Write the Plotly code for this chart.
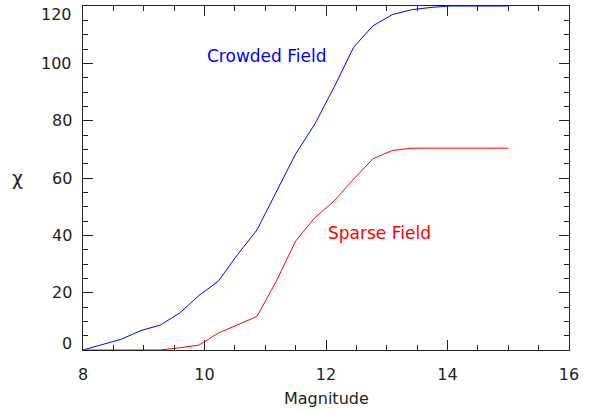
import plotly.graph_objects as go

magnitude = [8.0, 8.318, 8.636, 8.955, 9.273, 9.591, 9.909, 10.227, 10.545, 10.864,
             11.182, 11.5, 11.818, 12.136, 12.455, 12.773, 13.091, 13.409, 13.727,
             14.045, 14.364, 14.682, 15.0]
crowded = [0.0, 1.9, 3.8, 6.8, 8.7, 12.9, 19.0, 24.0, 33.3, 41.9,
           55.0, 68.4, 78.9, 91.8, 105.6, 113.1, 117.0, 118.7, 119.5,
           120.0, 120.0, 120.0, 120.0]
sparse = [0.0, 0.0, 0.0, 0.0, 0.0, 0.8, 1.7, 5.9, 8.8, 11.7,
          24.0, 38.0, 46.2, 52.0, 59.6, 66.7, 69.6, 70.4, 70.4,
          70.4, 70.4, 70.4, 70.4]
x_ticks = [8, 10, 12, 14, 16]
y_ticks = [0, 20, 40, 60, 80, 100, 120]

FONT = "DejaVu Sans"
AX = "#222222"
TXT = "#222222"

fig = go.Figure()
fig.add_trace(go.Scatter(x=magnitude, y=crowded, mode="lines",
                         line=dict(color="#0000ff", width=1), showlegend=False))
fig.add_trace(go.Scatter(x=magnitude, y=sparse, mode="lines",
                         line=dict(color="#ff0000", width=1), showlegend=False))

fig.add_annotation(x=10.0, y=102.5, text="Crowded Field", showarrow=False,
                   xanchor="left", yanchor="middle",
                   font=dict(family=FONT, size=17, color="#0000ff"))
fig.add_annotation(x=12.0, y=40.7, text="Sparse Field", showarrow=False,
                   xanchor="left", yanchor="middle",
                   font=dict(family=FONT, size=17, color="#ff0000"))
fig.add_annotation(x=0, y=60, xref="x domain", yref="y", xshift=-66, text="χ",
                   showarrow=False, xanchor="center", yanchor="middle",
                   font=dict(family=FONT, size=19, color=TXT))
fig.add_annotation(x=0.5, y=0, xref="x domain", yref="y domain", yshift=-48,
                   text="Magnitude", showarrow=False, xanchor="center", yanchor="middle",
                   font=dict(family=FONT, size=16, color=TXT))

# y tick labels (end labels nudged inward as in the original)
for v in y_ticks:
    shift = -8 if v == y_ticks[-1] else (7 if v == y_ticks[0] else 0)
    fig.add_annotation(x=0, y=v, xref="x domain", yref="y", xshift=-9, yshift=shift,
                       text=str(v), showarrow=False, xanchor="right", yanchor="middle",
                       font=dict(family=FONT, size=16, color=TXT))

fig.update_xaxes(range=[8, 16], tickvals=x_ticks, ticktext=[str(v) for v in x_ticks],
                 ticks="inside", ticklen=10, tickcolor=AX, tickwidth=1,
                 minor=dict(ticks="inside", ticklen=5, dtick=0.5, tickcolor=AX, showgrid=False),
                 showline=True, linecolor=AX, linewidth=1, mirror="allticks",
                 showgrid=False, zeroline=False, automargin=False,
                 ticklabelstandoff=10, ticklabeloverflow="allow",
                 tickfont=dict(family=FONT, size=16, color=TXT))
fig.update_yaxes(range=[0, 120], tickvals=y_ticks, showticklabels=False,
                 ticks="inside", ticklen=10, tickcolor=AX, tickwidth=1,
                 minor=dict(ticks="inside", ticklen=5, dtick=5, tickcolor=AX, showgrid=False),
                 showline=True, linecolor=AX, linewidth=1, mirror="allticks",
                 showgrid=False, zeroline=False, automargin=False)

fig.update_layout(width=590, height=410, autosize=False,
                  margin=dict(l=83, r=21, t=6, b=60, autoexpand=False),
                  plot_bgcolor="white", paper_bgcolor="white")

fig.write_html("out.html", config={"displayModeBar": False},
               post_script="document.body.style.margin='0px';document.body.style.overflow='hidden';")
